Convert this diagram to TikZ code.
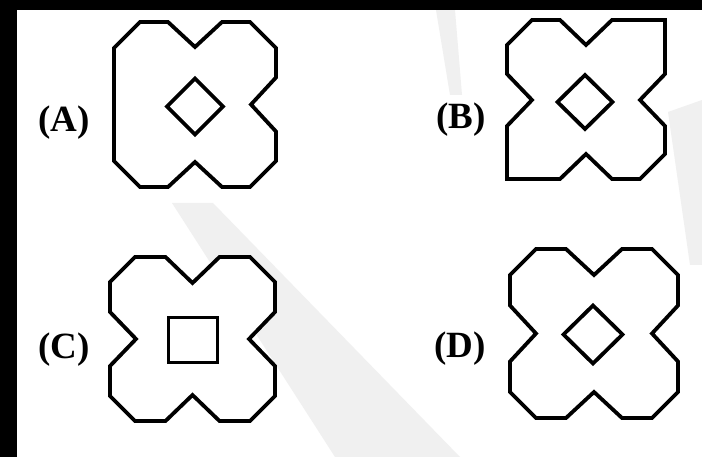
\documentclass[tikz,border=0pt]{standalone}
\usepackage{fontspec}
\setmainfont{Liberation Serif}
\definecolor{wmark}{RGB}{240,240,240}
\tikzset{
  figline/.style={draw=black, line width=3.8pt, line join=miter, fill=white},
  lbl/.style={font=\fontsize{37}{37}\selectfont\bfseries, inner sep=0pt, anchor=base east},
  band/.style={fill=wmark, draw=none}
}
\begin{document}
\begin{tikzpicture}[x=1pt,y=-1pt]
\useasboundingbox (0,0) rectangle (702,457);
\fill[white] (0,0) rectangle (702,457);
% watermark
\fill[band] (172,203) -- (213,203) -- (460,457) -- (335,457) -- cycle;
\fill[band] (436,10) -- (455,10) -- (462,95) -- (450,95) -- cycle;
\fill[band] (668,112) -- (702,100) -- (702,265) -- (690,265) -- cycle;
% black frame bands
\fill[black] (0,0) rectangle (17,457);
\fill[black] (0,0) rectangle (702,10);
% (A)
\draw[figline] (114,48) -- (140,22) -- (168,22) -- (195,47) -- (222,22) -- (250,22) -- (276,48)
  -- (276,77.5) -- (251,104.5) -- (276,131.5) -- (276,161) -- (250,187) -- (222,187)
  -- (195,162) -- (168,187) -- (140,187) -- (114,161) -- cycle;
\draw[figline] (195,78.5) -- (223,106.5) -- (195,134.5) -- (167,106.5) -- cycle;
\node[lbl] (la) at (90,132) {(A)};
% (B)
\draw[figline] (507,45) -- (532,20) -- (560,20) -- (586,45) -- (612,20) -- (665,20)
  -- (665,74) -- (640,100) -- (665,126) -- (665,154) -- (640,179) -- (612,179)
  -- (586,154) -- (560,179) -- (507,179) -- (507,126) -- (532,100) -- (507,74) -- cycle;
\draw[figline] (585,75) -- (612.5,102) -- (585,129) -- (557.5,102) -- cycle;
\node[lbl] (lb) at (486,129) {(B)};
% (C)
\draw[figline] (110,282) -- (135,257) -- (165.5,257) -- (192.5,283) -- (219.5,257) -- (250,257)
  -- (275,282) -- (275,312) -- (249,339) -- (275,366) -- (275,396) -- (250,421)
  -- (219.5,421) -- (192.5,395) -- (165.5,421) -- (135,421) -- (110,396) -- (110,366)
  -- (136,339) -- (110,312) -- cycle;
\draw[figline] (168.5,317.5) rectangle (217.5,362.5);
\node[lbl] (lc) at (90,358) {(C)};
% (D)
\draw[figline] (510,275) -- (536,249) -- (566,249) -- (594,275) -- (622,249) -- (652,249)
  -- (678,275) -- (678,305.5) -- (652,333.5) -- (678,361.5) -- (678,392) -- (652,418)
  -- (622,418) -- (594,392) -- (566,418) -- (536,418) -- (510,392) -- (510,361.5)
  -- (536,333.5) -- (510,305.5) -- cycle;
\draw[figline] (593,305.5) -- (622.5,334.5) -- (593,363.5) -- (563.5,334.5) -- cycle;
\node[lbl] (ld) at (486,357) {(D)};
\end{tikzpicture}
\end{document}
